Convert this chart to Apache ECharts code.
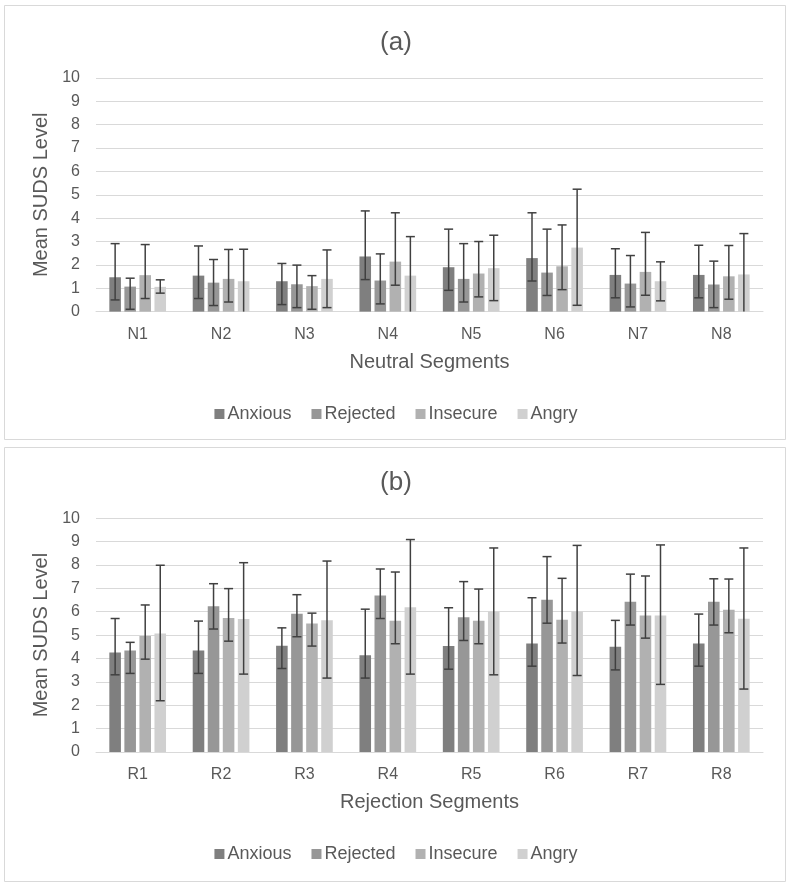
<!DOCTYPE html>
<html><head><meta charset="utf-8">
<script src="https://cdn.jsdelivr.net/npm/echarts@6/dist/echarts.min.js"></script>
<style>html,body{margin:0;padding:0;background:#fff}#c{width:792px;height:887px}</style>
</head><body><div id="c"></div>
<script>
const seriesNames = ['Anxious','Rejected','Insecure','Angry'];
const colors = ['#7f7f7f','#979797','#b1b1b1','#d0d0d0'];

const neutralCats = ['N1','N2','N3','N4','N5','N6','N7','N8'];
const neutralAnxious  = [1.47,1.54,1.30,2.36,1.90,2.29,1.57,1.57];
const neutralRejected = [1.07,1.24,1.17,1.33,1.40,1.67,1.20,1.16];
const neutralInsecure = [1.56,1.40,1.09,2.14,1.63,1.94,1.70,1.51];
const neutralAngry    = [1.06,1.30,1.40,1.54,1.86,2.74,1.30,1.59];
const neutralAnxiousHi  = [2.91,2.81,2.06,4.31,3.53,4.23,2.69,2.84];
const neutralAnxiousLo  = [0.50,0.56,0.30,1.37,0.91,1.31,0.59,0.59];
const neutralRejectedHi = [1.43,2.23,1.99,2.47,2.91,3.53,2.40,2.16];
const neutralRejectedLo = [0.10,0.26,0.17,0.33,0.41,0.69,0.20,0.17];
const neutralInsecureHi = [2.87,2.66,1.54,4.23,3.00,3.71,3.39,2.83];
const neutralInsecureLo = [0.56,0.41,0.10,1.13,0.63,0.94,0.70,0.53];
const neutralAngryHi    = [1.36,2.67,2.64,3.21,3.27,5.24,2.13,3.34];
const neutralAngryLo    = [0.79,-0.07,0.17,-0.13,0.47,0.27,0.46,-0.16];

const rejectionCats = ['R1','R2','R3','R4','R5','R6','R7','R8'];
const rejectionAnxious  = [4.26,4.34,4.54,4.14,4.53,4.64,4.50,4.64];
const rejectionRejected = [4.34,6.23,5.91,6.69,5.76,6.51,6.43,6.43];
const rejectionInsecure = [4.96,5.73,5.50,5.61,5.61,5.66,5.84,6.09];
const rejectionAngry    = [5.07,5.69,5.64,6.19,6.00,6.00,5.84,5.70];
const rejectionAnxiousHi  = [5.71,5.60,5.31,6.11,6.17,6.60,5.63,5.90];
const rejectionAnxiousLo  = [3.30,3.36,3.57,3.16,3.54,3.67,3.51,3.67];
const rejectionRejectedHi = [4.69,7.20,6.73,7.83,7.29,8.36,7.61,7.41];
const rejectionRejectedLo = [3.36,5.26,4.93,5.71,4.77,5.51,5.43,5.43];
const rejectionInsecureHi = [6.29,6.99,5.94,7.70,6.97,7.43,7.53,7.40];
const rejectionInsecureLo = [3.97,4.74,4.53,4.63,4.63,4.66,4.87,5.10];
const rejectionAngryHi    = [7.99,8.10,8.17,9.09,8.73,8.84,8.86,8.73];
const rejectionAngryLo    = [2.19,3.33,3.16,3.33,3.30,3.27,2.89,2.69];

const yTicks = [0,1,2,3,4,5,6,7,8,9,10];

const FONT = '"Liberation Sans", Arial, sans-serif';
const TXT = '#595959';
const CAT_GAP = 0.32, BAR_GAP = 0.30;

const panels = [
  {cats: neutralCats, vals:[neutralAnxious,neutralRejected,neutralInsecure,neutralAngry],
   hi:[neutralAnxiousHi,neutralRejectedHi,neutralInsecureHi,neutralAngryHi],
   lo:[neutralAnxiousLo,neutralRejectedLo,neutralInsecureLo,neutralAngryLo],
   xName:'Neutral Segments', title:'(a)'},
  {cats: rejectionCats, vals:[rejectionAnxious,rejectionRejected,rejectionInsecure,rejectionAngry],
   hi:[rejectionAnxiousHi,rejectionRejectedHi,rejectionInsecureHi,rejectionAngryHi],
   lo:[rejectionAnxiousLo,rejectionRejectedLo,rejectionInsecureLo,rejectionAngryLo],
   xName:'Rejection Segments', title:'(b)'}
];

const gridTops = [78, 518.3];
const gridH = 233.6;
const titleTops = [25, 465];
const legendTops = [400, 840];

const chart = echarts.init(document.getElementById('c'), null, {renderer:'canvas'});

function errRender(sIdx){
  return function(params, api){
    const x = api.value(0);
    const lo = api.value(1), hi = api.value(2);
    const band = api.size([1,0])[0];
    const usable = band*(1-CAT_GAP);
    const bw = usable/(4+3*BAR_GAP);
    const c = api.coord([x, 0]);
    const cx = c[0] - usable/2 + sIdx*bw*(1+BAR_GAP) + bw/2;
    const cs = params.coordSys;
    const bottom = cs.y + cs.height;
    let yHi = api.coord([x, hi])[1];
    let yLo = api.coord([x, lo])[1];
    const children = [];
    const st = {stroke:'#404040', lineWidth:1.5};
    let loClipped = false;
    if (yLo > bottom) { yLo = bottom; loClipped = true; }
    children.push({type:'line', shape:{x1:cx,y1:yHi,x2:cx,y2:yLo}, style:st});
    children.push({type:'line', shape:{x1:cx-4.5,y1:yHi,x2:cx+4.5,y2:yHi}, style:st});
    if (!loClipped) children.push({type:'line', shape:{x1:cx-4.5,y1:yLo,x2:cx+4.5,y2:yLo}, style:st});
    return {type:'group', children};
  };
}

const option = {
  animation:false,
  backgroundColor:'#fff',
  textStyle:{fontFamily:FONT},
  title: panels.map((p,i)=>({text:p.title, left:'center', top:titleTops[i],
    textStyle:{fontFamily:FONT, fontSize:26, fontWeight:'normal', color:TXT}})),
  legend: panels.map((p,i)=>({data:seriesNames, top:legendTops[i], left:'center',
    icon:'rect', itemWidth:10, itemHeight:10, itemGap:20,
    textStyle:{fontFamily:FONT, fontSize:18, color:TXT, padding:[0,0,0,-2]}, selectedMode:false})),
  grid: panels.map((p,i)=>({left:96, right:29, top:gridTops[i], height:gridH, containLabel:false})),
  xAxis: panels.map((p,i)=>({type:'category', gridIndex:i, data:p.cats,
    axisLine:{lineStyle:{color:'#d9d9d9', width:1}}, axisTick:{show:false},
    axisLabel:{fontFamily:FONT, fontSize:16, color:TXT, margin:15},
    name:p.xName, nameLocation:'middle', nameGap:41,
    nameTextStyle:{fontFamily:FONT, fontSize:20, color:TXT}})),
  yAxis: panels.map((p,i)=>({type:'value', gridIndex:i, min:0, max:10, interval:1,
    axisLine:{show:false}, axisTick:{show:false},
    splitLine:{lineStyle:{color:'#d9d9d9', width:1.2}},
    axisLabel:{fontFamily:FONT, fontSize:16, color:TXT, margin:16},
    name:'Mean SUDS Level', nameLocation:'middle', nameGap:44,
    nameTextStyle:{fontFamily:FONT, fontSize:20, color:TXT}})),
  graphic: [
    {type:'rect', shape:{x:4.5,y:5.5,width:781,height:434}, style:{fill:'none', stroke:'#d9d9d9', lineWidth:1}, silent:true, z:-1},
    {type:'rect', shape:{x:4.5,y:447.5,width:781,height:434}, style:{fill:'none', stroke:'#d9d9d9', lineWidth:1}, silent:true, z:-1}
  ],
  series: []
};

panels.forEach((p,pi)=>{
  seriesNames.forEach((n,si)=>{
    option.series.push({type:'bar', name:n, xAxisIndex:pi, yAxisIndex:pi, data:p.vals[si],
      itemStyle:{color:colors[si]}, barCategoryGap:(CAT_GAP*100)+'%', barGap:(BAR_GAP*100)+'%'});
  });
});
panels.forEach((p,pi)=>{
  seriesNames.forEach((n,si)=>{
    option.series.push({type:'custom', name:'err-'+pi+'-'+si, xAxisIndex:pi, yAxisIndex:pi, z:5,
      renderItem: errRender(si),
      data: p.cats.map((c,ci)=>[ci, p.lo[si][ci], p.hi[si][ci]]),
      clip:false});
  });
});

chart.setOption(option);
</script></body></html>
